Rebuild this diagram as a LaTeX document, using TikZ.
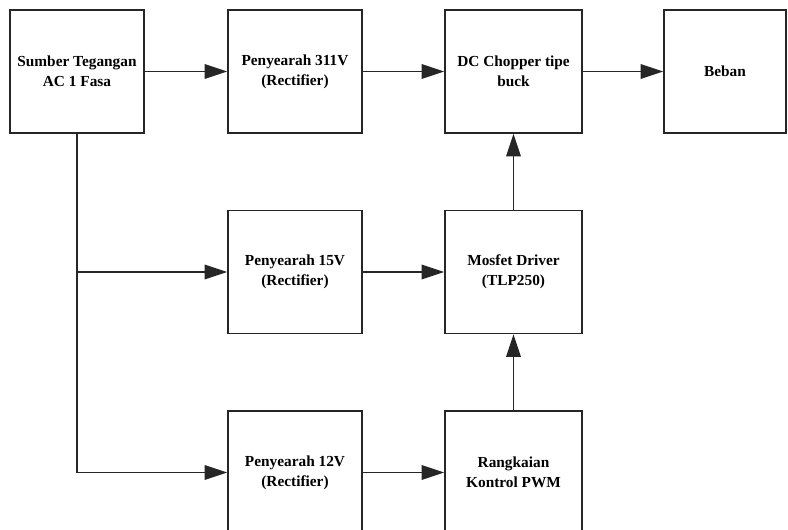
\documentclass[tikz,border=0pt]{standalone}
\usepackage{fontspec}
\setmainfont{Liberation Serif}
\usetikzlibrary{arrows.meta}
\begin{document}
\begin{tikzpicture}[x=0.75pt,y=-0.75pt,
  blk/.style={draw=black!85,line width=1.1pt,fill=white,inner sep=0pt,
    minimum width=#1*0.75pt,minimum height=123*0.75pt,
    align=center,font=\bfseries\fontsize{11.5}{15}\selectfont},
  blk/.default=134,
  conn/.style={draw=black!85,line width=1.1pt,-{Triangle[length=17pt,width=11pt]}},
  wire/.style={draw=black!85,line width=1.1pt}]
\useasboundingbox (0,0) rectangle (788,529);
\clip (0,0) rectangle (788,529);
\node[blk] (src) at (77,71.5) {Sumber Tegangan\\AC 1 Fasa};
\node[blk] (p311) at (295,71.5) {Penyearah 311V\\(Rectifier)};
\node[blk=137] (dc) at (513.5,71.5) {DC Chopper tipe\\buck};
\node[blk=122] (beban) at (725,71.5) {Beban};
\node[blk] (p15) at (295,272) {Penyearah 15V\\(Rectifier)};
\node[blk=137] (mos) at (513.5,272) {Mosfet Driver\\(TLP250)};
\node[blk] (p12) at (295,472.5) {Penyearah 12V\\(Rectifier)};
\node[blk=137] (pwm) at (513.5,472.5) {Rangkaian\\Kontrol PWM};
\coordinate (j12) at (src.south |- p12.west);
\coordinate (j15) at (src.south |- p15.west);
\draw[conn] (src) -- (p311);
\draw[conn] (p311) -- (dc);
\draw[conn] (dc) -- (beban);
\draw[conn] (p15) -- (mos);
\draw[conn] (p12) -- (pwm);
\draw[conn] (mos) -- (dc);
\draw[conn] (pwm) -- (mos);
\draw[wire] (src.south) -- (j12);
\draw[conn] (j12) -- (p12);
\draw[conn] (j15) -- (p15);
\end{tikzpicture}
\end{document}
